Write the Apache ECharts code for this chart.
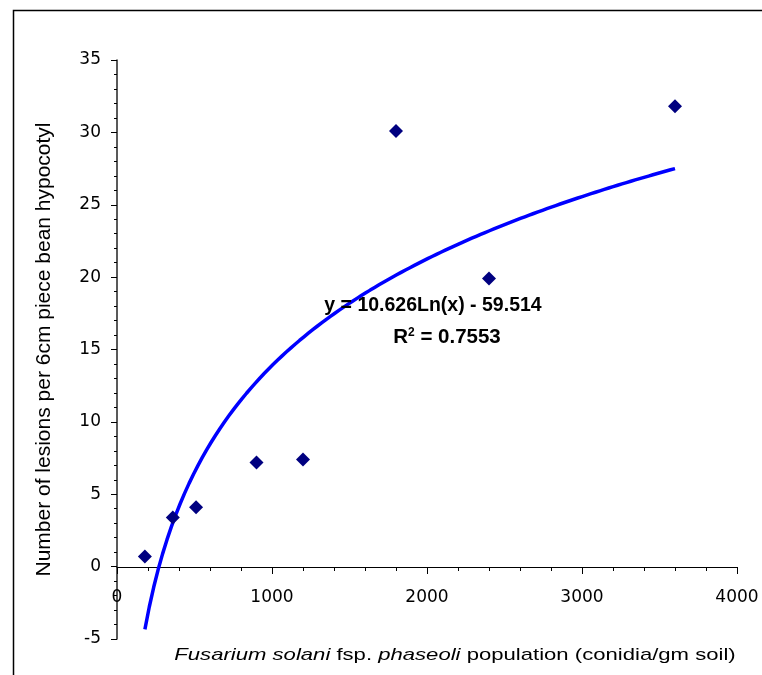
<!DOCTYPE html>
<html>
<head>
<meta charset="utf-8">
<script src="https://cdn.jsdelivr.net/npm/echarts@6/dist/echarts.min.js"></script>
<style>
  html, body { margin: 0; padding: 0; background: #fff; }
  #chart { width: 762px; height: 675px; }
</style>
</head>
<body>
<div id="chart"></div>
<script>
// population (conidia/gm soil) and lesions per 6cm piece
const population = [180, 360, 510, 900, 1200, 1800, 2400, 3600];
const lesions = [0.7, 3.4, 4.1, 7.2, 7.4, 30.1, 19.9, 31.8];

// trendline coefficients as printed on the chart
const trendA = 10.626;
const trendB = -59.514;
const trendR2 = 0.7553;

const xTicks = [0, 1000, 2000, 3000, 4000];
const yTicks = [-5, 0, 5, 10, 15, 20, 25, 30, 35];

const font = "Liberation Sans, Arial, sans-serif";
const tickFont = "DejaVu Sans, sans-serif";

// log trendline drawn over the data range
const trend = [];
const xMin = Math.min(...population), xMax = Math.max(...population);
for (let i = 0; i <= 120; i++) {
  const x = xMin + (xMax - xMin) * i / 120;
  trend.push([x, trendA * Math.log(x) + trendB]);
}

const chart = echarts.init(document.getElementById("chart"));
const option = {
  animation: false,
  backgroundColor: "#fff",
  grid: { left: 117, right: 25, top: 60, bottom: 36 },
  xAxis: {
    type: "value",
    min: xTicks[0],
    max: xTicks[xTicks.length - 1],
    interval: 1000,
    splitLine: { show: false },
    axisLine: { onZero: false, lineStyle: { color: "#000", width: 1 } },
    axisTick: { length: 7, lineStyle: { color: "#000" } },
    minorTick: { show: true, splitNumber: 5, length: 4, lineStyle: { color: "#000" } },
    axisLabel: { color: "#000", fontSize: 17, fontFamily: tickFont, margin: 22, formatter: v => String(v) }
  },
  yAxis: {
    type: "value",
    min: yTicks[0],
    max: yTicks[yTicks.length - 1],
    interval: 5,
    splitLine: { show: false },
    axisLine: { show: true, lineStyle: { color: "#222", width: 1.5 } },
    axisTick: { show: true, length: 6, lineStyle: { color: "#000" } },
    minorTick: { show: true, splitNumber: 5, length: 3, lineStyle: { color: "#000" } },
    axisLabel: { color: "#000", fontSize: 17, fontFamily: tickFont, margin: 16 },
    name: "Number of lesions per 6cm piece bean hypocotyl",
    nameLocation: "middle",
    nameGap: 62,
    nameTextStyle: { color: "#000", fontSize: 21, fontFamily: font }
  },
  graphic: [
    {
      type: "rect",
      left: 11, top: 8,
      shape: { width: 800, height: 700 },
      style: { fill: null, stroke: "#000", lineWidth: 1.5 },
      silent: true
    },
    {
      type: "text",
      x: 455, y: 655, scaleX: 1.3,
      style: {
        text: "{i|Fusarium solani} fsp. {i|phaseoli} population (conidia/gm soil)",
        align: "center", verticalAlign: "middle",
        fontSize: 17, fontFamily: font, fill: "#000",
        rich: { i: { fontStyle: "italic", fontSize: 17, fontFamily: font } }
      }
    },
    {
      type: "text",
      x: 433, y: 306, z: 10,
      style: {
        text: "y = " + trendA + "Ln(x) - " + (-trendB),
        align: "center", verticalAlign: "middle",
        fontSize: 19.5, fontWeight: "bold", fontFamily: font, fill: "#000"
      }
    },
    {
      type: "text",
      x: 447, y: 337, z: 10,
      style: {
        text: "R{s|2} = " + trendR2,
        align: "center", verticalAlign: "middle",
        fontSize: 20.5, fontWeight: "bold", fontFamily: font, fill: "#000",
        rich: { s: { fontSize: 12, fontWeight: "bold", fontFamily: font, verticalAlign: "top", padding: [0, 0, 9, 0] } }
      }
    }
  ],
  series: [
    {
      type: "line",
      data: trend,
      showSymbol: false,
      smooth: false,
      lineStyle: { color: "#0000ff", width: 3.5 },
      z: 2
    },
    {
      type: "scatter",
      data: population.map((x, i) => [x, lesions[i]]),
      symbol: "diamond",
      symbolSize: 14,
      itemStyle: { color: "#000080", opacity: 1 },
      z: 3
    }
  ]
};
chart.setOption(option);

// move the x axis up so it crosses the y axis at 0, labels included
const zeroY = chart.convertToPixel({ yAxisIndex: 0 }, 0);
const bottomY = chart.convertToPixel({ yAxisIndex: 0 }, yTicks[0]);
chart.setOption({ xAxis: { offset: zeroY - bottomY } });
</script>
</body>
</html>
